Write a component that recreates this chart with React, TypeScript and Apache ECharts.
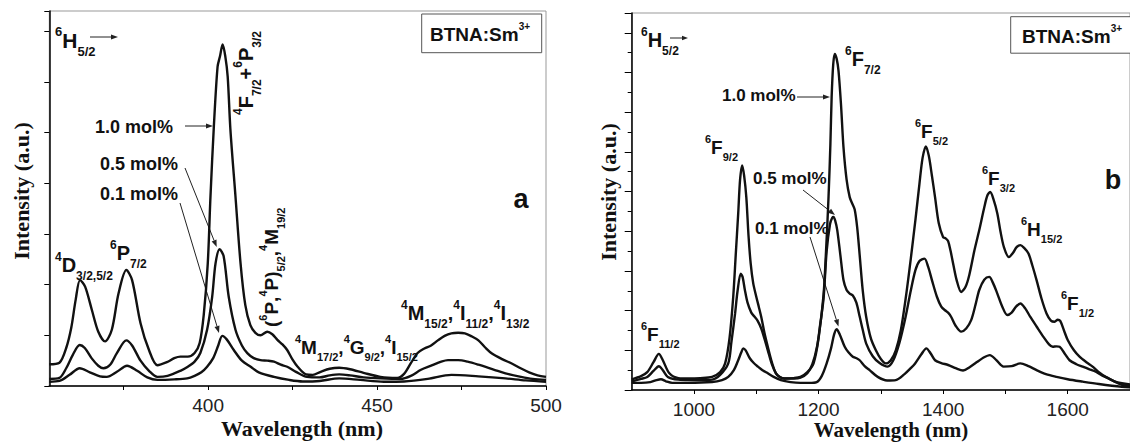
import React, { useEffect, useRef } from 'react';
import * as echarts from 'echarts';

// ---------- Data ----------
// Panel a: excitation 350-500 nm
const aTop: [number, number][] = [[353,0.43],[356,0.46],[358,0.75],[359.5,1.15],[360.8,1.7],[362.1,2.09],[363.6,1.96],[365.6,1.5],[367.5,1.07],[369.5,0.88],[371.5,1.11],[373.5,1.83],[375.8,2.29],[377.5,2.09],[380,1.24],[382.5,0.71],[385,0.41],[387.8,0.47],[390,0.55],[391.8,0.58],[394,0.58],[396,0.65],[397.5,0.85],[398.7,1.4],[399.9,2.42],[400.7,3.74],[401.7,5.12],[402.8,6.3],[403.5,6.5],[404.3,6.74],[405.1,6.5],[405.8,6.1],[406.6,5.06],[408.1,3.74],[409.6,2.42],[411,1.6],[412.5,1.2],[414,1.05],[415.5,1.0],[417.5,1.07],[419,1.02],[420.5,0.91],[422,0.82],[423.4,0.71],[425,0.52],[426.5,0.38],[429,0.23],[431,0.22],[433.3,0.28],[436,0.34],[438.8,0.36],[442,0.33],[446,0.26],[451,0.18],[456,0.16],[458,0.24],[460,0.45],[462,0.65],[464,0.74],[466,0.8],[468,0.9],[470,0.99],[472,1.04],[474,1.05],[476,1.04],[478,0.98],[480,0.9],[482,0.76],[484,0.64],[487,0.53],[490,0.44],[492.5,0.35],[495,0.27],[497.5,0.21],[500,0.18]];
const aMid: [number, number][] = [[353,0.14],[356,0.16],[358,0.35],[360,0.62],[362,0.81],[363.5,0.75],[365.5,0.55],[367.5,0.4],[369,0.35],[371,0.42],[373,0.65],[375.8,0.9],[377.5,0.8],[380,0.5],[382.5,0.3],[385,0.18],[388,0.2],[391.8,0.3],[394,0.38],[396,0.48],[397.7,0.65],[399.7,1.11],[401.2,1.76],[402.2,2.42],[403.4,2.7],[404.6,2.56],[406.1,1.76],[408.1,1.11],[410,0.8],[411.6,0.65],[413.5,0.55],[415.5,0.51],[417.5,0.5],[419.5,0.48],[421.5,0.42],[423.4,0.38],[426,0.28],[429.3,0.18],[433,0.17],[436,0.21],[438.8,0.23],[442,0.21],[446,0.17],[451,0.15],[457,0.14],[460,0.2],[463,0.32],[466,0.4],[469,0.48],[471,0.51],[474,0.51],[476.8,0.48],[480,0.42],[484.7,0.32],[488,0.25],[492.6,0.18],[496,0.14],[500,0.12]];
const aLow: [number, number][] = [[353,0.085],[356,0.1],[359,0.22],[362,0.35],[365,0.27],[368,0.19],[370,0.18],[373,0.28],[376,0.4],[379,0.3],[382,0.17],[385,0.12],[390,0.13],[393.8,0.15],[396,0.2],[398,0.27],[399.7,0.38],[401.5,0.55],[403,0.8],[404.2,0.99],[405.5,0.92],[407.6,0.71],[410,0.5],[412.6,0.38],[415,0.27],[419.5,0.18],[424,0.12],[428,0.09],[433,0.1],[438.8,0.15],[445,0.12],[452,0.085],[458,0.09],[465,0.14],[472,0.22],[480,0.19],[488,0.15],[494,0.11],[500,0.085]];

// Panel b: 900-1700 nm
const bTop: [number, number][] = [[900,0.27],[915,0.35],[925,0.45],[935,0.7],[943.6,0.91],[950,0.75],[960.5,0.42],[975,0.3],[992,0.29],[1010,0.3],[1029,0.33],[1042,0.45],[1050,0.67],[1057,1.3],[1063,2.35],[1067,3.4],[1071,4.45],[1074,5.3],[1077.4,5.66],[1080.5,5.4],[1084,4.86],[1087.5,3.9],[1091,3.19],[1095,2.7],[1100,2.35],[1104,2.1],[1108,1.84],[1113,1.45],[1118.5,1.09],[1125,0.7],[1131.6,0.42],[1138,0.33],[1145,0.29],[1160,0.3],[1171,0.33],[1182,0.45],[1192,0.67],[1200,1.3],[1208,2.4],[1212,3.5],[1216,4.86],[1219,6.2],[1221,7.38],[1223.5,8.2],[1226,8.47],[1229,8.35],[1232,8.05],[1236,7.2],[1240,6.12],[1245,5.3],[1250,4.86],[1254,4.7],[1258,4.55],[1262,4.1],[1266,3.4],[1271,2.5],[1276.5,1.84],[1284,1.3],[1292,1.0],[1300,0.78],[1308,0.67],[1316,0.75],[1324,1.0],[1332,1.5],[1339.8,2.3],[1348,3.3],[1355.6,4.3],[1362,5.2],[1367,5.85],[1372.3,6.14],[1377,5.9],[1382,5.4],[1387,4.86],[1393,4.2],[1400,3.85],[1404,3.82],[1408,3.75],[1412,3.5],[1416,3.19],[1422,2.75],[1429,2.47],[1436,2.6],[1442,2.9],[1450,3.5],[1458,4.03],[1466,4.6],[1471,4.9],[1475.5,4.99],[1481,4.8],[1487,4.45],[1492,4.0],[1497.6,3.6],[1505.5,3.35],[1512,3.45],[1518,3.6],[1524,3.65],[1530,3.58],[1537,3.44],[1543,3.15],[1550,2.77],[1558,2.3],[1566,1.93],[1573,1.75],[1579,1.72],[1584,1.77],[1588,1.74],[1594,1.5],[1600,1.26],[1610,1.0],[1619,0.84],[1630,0.7],[1640,0.59],[1650,0.45],[1661,0.33],[1675,0.22],[1687,0.17],[1700,0.14]];
const bMid: [number, number][] = [[900,0.22],[915,0.28],[925,0.33],[935,0.48],[943.6,0.6],[950,0.5],[958,0.33],[975,0.26],[992,0.25],[1010,0.25],[1029,0.26],[1042,0.38],[1055,0.67],[1060,1.2],[1066,1.93],[1070,2.5],[1075,2.93],[1078,2.85],[1081.7,2.52],[1086,2.2],[1092,1.95],[1097,1.85],[1102,1.75],[1108,1.55],[1113,1.3],[1118.5,1.0],[1125,0.65],[1131.6,0.42],[1138,0.32],[1145,0.29],[1160,0.29],[1171,0.31],[1182,0.42],[1190,0.65],[1197.5,1.09],[1203,1.7],[1208,2.3],[1213,3.5],[1218.5,4.19],[1222,4.34],[1224,4.36],[1227,4.25],[1230,4.03],[1235,3.4],[1240,2.77],[1245,2.52],[1250,2.43],[1255,2.38],[1260.7,2.2],[1266,1.85],[1271,1.51],[1276.5,1.17],[1287,0.85],[1298,0.68],[1310.7,0.59],[1320,0.75],[1330,1.2],[1339.7,1.84],[1348,2.5],[1355.5,3.02],[1362,3.25],[1370,3.31],[1376,3.1],[1382,2.77],[1390,2.35],[1397,2.1],[1403,2.01],[1408,1.95],[1413,1.84],[1420,1.62],[1429,1.47],[1437,1.55],[1445,1.76],[1452,2.15],[1458,2.52],[1466,2.78],[1474,2.85],[1480,2.7],[1487,2.43],[1495,2.1],[1503,1.89],[1510,1.95],[1517,2.1],[1524,2.18],[1532,2.05],[1540,1.84],[1550,1.6],[1561,1.34],[1570,1.15],[1576,1.09],[1582,1.1],[1587,1.09],[1595,0.92],[1603,0.75],[1614,0.65],[1624,0.59],[1635,0.52],[1645,0.46],[1655,0.37],[1666,0.29],[1677,0.2],[1687,0.13],[1700,0.1]];
const bLow: [number, number][] = [[900,0.18],[915,0.18],[930,0.2],[940,0.25],[947,0.27],[955,0.22],[965,0.18],[990,0.18],[1029,0.2],[1045,0.25],[1055,0.33],[1064,0.5],[1071,0.75],[1076,0.95],[1079,1.05],[1083,1.0],[1089.6,0.8],[1096,0.68],[1102.7,0.59],[1110,0.5],[1118.5,0.42],[1128,0.33],[1139.5,0.25],[1155,0.2],[1171,0.18],[1185,0.18],[1197,0.2],[1205,0.35],[1213,0.67],[1220,1.05],[1225,1.4],[1229,1.53],[1234,1.4],[1242,1.09],[1248,0.95],[1255,0.84],[1261,0.8],[1266,0.75],[1274,0.6],[1282,0.5],[1295,0.33],[1310,0.24],[1324,0.25],[1338,0.4],[1348,0.55],[1355,0.67],[1365,0.9],[1373,1.05],[1380,0.92],[1387,0.75],[1397,0.68],[1408,0.63],[1420,0.55],[1432,0.49],[1443,0.58],[1455,0.71],[1465,0.82],[1475,0.88],[1485,0.76],[1497,0.59],[1510,0.6],[1524,0.67],[1537,0.6],[1550,0.5],[1565,0.4],[1582,0.33],[1600,0.27],[1624,0.21],[1650,0.15],[1687,0.08],[1700,0.07]];

const aTickValues = [375, 400, 425, 450, 475, 500];
const aLabelValues = [400, 450, 500];
const bTickValues = [1000, 1100, 1200, 1300, 1400, 1500, 1600, 1700];
const bLabelValues = [1000, 1200, 1400, 1600];

const xName = 'Wavelength (nm)';
const yName = 'Intensity (a.u.)';
const sampleName = 'BTNA:Sm';
const concLabels = ['1.0 mol%', '0.5 mol%', '0.1 mol%'];

// ---------- helpers ----------
const SANS = 'Liberation Sans';
const SERIF = 'Liberation Serif';
const INK = '#111';

let measureCtx: CanvasRenderingContext2D | null = null;
function textWidth(s: string, size: number, family = SANS, weight = 'bold') {
  if (!measureCtx) measureCtx = document.createElement('canvas').getContext('2d');
  if (!measureCtx) return s.length * size * 0.6;
  measureCtx.font = `${weight} ${size}px "${family}"`;
  return measureCtx.measureText(s).width;
}

type Part = [string, 'm' | 'u' | 'd'];
function subLabel(parts: Part[], x: number, y: number, size: number, rot = 0, small?: number) {
  const sm = small ?? Math.round(size * 0.6);
  let cx = 0;
  const children = parts.map(([t, k]) => {
    const fs = k === 'm' ? size : sm;
    const dy = k === 'm' ? 0 : k === 'u' ? -size * 0.42 : size * 0.55;
    const el = {
      type: 'text',
      x: cx,
      y: dy,
      style: { text: t, fontSize: fs, fontWeight: 'bold', fontFamily: SANS, fill: INK, verticalAlign: 'middle', align: 'left' },
    };
    cx += textWidth(t, fs);
    return el;
  });
  return { type: 'group', x, y, rotation: rot, children };
}

function arrow(x1: number, y1: number, x2: number, y2: number, head = 7, hw = 2.6) {
  const a = Math.atan2(y2 - y1, x2 - x1);
  const bx = x2 - head * Math.cos(a);
  const by = y2 - head * Math.sin(a);
  const px = -Math.sin(a) * hw;
  const py = Math.cos(a) * hw;
  return [
    { type: 'line', shape: { x1, y1, x2: bx, y2: by }, style: { stroke: '#222', lineWidth: 1 } },
    { type: 'polygon', shape: { points: [[x2, y2], [bx + px, by + py], [bx - px, by - py]] }, style: { fill: '#222' } },
  ];
}

function plainText(text: string, x: number, y: number, size: number, opts: any = {}) {
  return {
    type: 'text',
    x,
    y,
    rotation: opts.rot ?? 0,
    style: {
      text,
      fontSize: size,
      fontWeight: 'bold',
      fontFamily: opts.family ?? SANS,
      fill: INK,
      align: opts.align ?? 'left',
      verticalAlign: 'middle',
    },
  };
}

function box(x: number, y: number, w: number, h: number) {
  return { type: 'rect', shape: { x, y, width: w, height: h }, style: { fill: '#fff', stroke: '#555', lineWidth: 1 } };
}

const lineSeries = (data: [number, number][], idx: number) => ({
  type: 'line',
  data,
  xAxisIndex: idx,
  yAxisIndex: idx,
  showSymbol: false,
  smooth: 0.3,
  lineStyle: { color: INK, width: 2.4 },
  z: 3,
});

const axisLabelStyle = {
  fontFamily: SANS,
  fontSize: 19,
  color: '#222',
  margin: 10,
  formatter: (v: number) => String(v),
};

export default function App() {
  const ref = useRef<HTMLDivElement>(null);
  useEffect(() => {
    if (!ref.current) return;
    const chart = echarts.init(ref.current, null, { renderer: 'svg' });
    const PI2 = Math.PI / 2;
    const graphics: any[] = [
      // axis names
      plainText(yName, 21, 191, 22, { family: SERIF, align: 'center', rot: PI2 }),
      plainText(yName, 608, 192, 22, { family: SERIF, align: 'center', rot: PI2 }),
      plainText(xName, 302, 428, 22, { family: SERIF, align: 'center' }),
      plainText(xName, 891, 430, 21, { family: SERIF, align: 'center' }),

      // ---- panel a ----
      subLabel([['6', 'u'], ['H', 'm'], ['5/2', 'd']], 55, 40, 21),
      ...arrow(90, 37, 118, 37),
      box(421.7, 14, 120, 38.7),
      subLabel([[sampleName, 'm'], ['3+', 'u']], 430, 34, 19, 0, 10),
      plainText('a', 521, 199, 27, { align: 'center' }),
      plainText(concLabels[0], 95, 127, 18),
      ...arrow(185, 126, 213, 126),
      plainText(concLabels[1], 100, 164, 18),
      ...arrow(185, 168, 216.7, 247),
      plainText(concLabels[2], 100, 194, 18),
      ...arrow(180, 203, 219, 333),
      subLabel([['4', 'u'], ['F', 'm'], ['7/2', 'd'], ['+', 'm'], ['6', 'u'], ['P', 'm'], ['3/2', 'd']], 246, 115, 20, PI2),
      subLabel([['(', 'm'], ['6', 'u'], ['P', 'm'], [',', 'm'], ['4', 'u'], ['P', 'm'], [')', 'm'], ['5/2', 'd'], [',', 'm'], ['4', 'u'], ['M', 'm'], ['19/2', 'd']], 271, 327, 19, PI2),
      subLabel([['4', 'u'], ['D', 'm'], ['3/2,5/2', 'd']], 55, 265, 20),
      subLabel([['6', 'u'], ['P', 'm'], ['7/2', 'd']], 110, 253, 20),
      subLabel([['4', 'u'], ['M', 'm'], ['17/2', 'd'], [',', 'm'], ['4', 'u'], ['G', 'm'], ['9/2', 'd'], [',', 'm'], ['4', 'u'], ['I', 'm'], ['15/2', 'd']], 295, 347, 19),
      subLabel([['4', 'u'], ['M', 'm'], ['15/2', 'd'], [',', 'm'], ['4', 'u'], ['I', 'm'], ['11/2', 'd'], [',', 'm'], ['4', 'u'], ['I', 'm'], ['13/2', 'd']], 401, 313, 20),

      // ---- panel b ----
      subLabel([['6', 'u'], ['H', 'm'], ['5/2', 'd']], 641, 40, 20),
      ...arrow(670, 38, 688, 38, 6, 2.3),
      box(1010.7, 16.7, 130, 36.5),
      subLabel([[sampleName, 'm'], ['3+', 'u']], 1022, 36, 19, 0, 10),
      plainText('b', 1113, 180, 27, { align: 'center' }),
      plainText(concLabels[0], 722, 95, 17),
      ...arrow(797, 97, 830, 97),
      plainText(concLabels[1], 753, 178, 17),
      ...arrow(803, 190, 835, 215),
      plainText(concLabels[2], 755, 228, 17),
      ...arrow(810, 237, 838.5, 326.5),
      subLabel([['6', 'u'], ['F', 'm'], ['11/2', 'd']], 641, 334, 19),
      subLabel([['6', 'u'], ['F', 'm'], ['9/2', 'd']], 705, 147, 19),
      subLabel([['6', 'u'], ['F', 'm'], ['7/2', 'd']], 845, 59, 20),
      subLabel([['6', 'u'], ['F', 'm'], ['5/2', 'd']], 915, 131, 19),
      subLabel([['6', 'u'], ['F', 'm'], ['3/2', 'd']], 982, 178, 19),
      subLabel([['6', 'u'], ['H', 'm'], ['15/2', 'd']], 1021, 229, 19),
      subLabel([['6', 'u'], ['F', 'm'], ['1/2', 'd']], 1061, 303, 19),
    ];

    const option: any = {
      animation: false,
      backgroundColor: '#fff',
      grid: [
        { left: 49.3, top: 11, width: 496.7, height: 375, show: true, borderColor: '#999', borderWidth: 1 },
        { left: 631.7, top: 13, width: 506.3, height: 377, show: true, borderColor: '#999', borderWidth: 1 },
      ],
      xAxis: [
        {
          type: 'value', gridIndex: 0, min: 353, max: 500,
          axisLine: { lineStyle: { color: '#000', width: 1.5 } },
          axisTick: { show: true, length: 4, customValues: aTickValues, lineStyle: { color: '#000' } },
          axisLabel: { ...axisLabelStyle, customValues: aLabelValues },
          splitLine: { show: false },
        },
        {
          type: 'value', gridIndex: 1, min: 900, max: 1700,
          axisLine: { lineStyle: { color: '#000', width: 1.5 } },
          axisTick: { show: true, length: 4, customValues: bTickValues, lineStyle: { color: '#000' } },
          axisLabel: { ...axisLabelStyle, customValues: bLabelValues },
          splitLine: { show: false },
        },
      ],
      yAxis: [
        {
          type: 'value', gridIndex: 0, min: 0, max: 7.4, interval: 1,
          axisLine: { show: true, lineStyle: { color: '#000', width: 1.5 } },
          axisTick: { show: true, length: 5, lineStyle: { color: '#000' } },
          axisLabel: { show: false },
          splitLine: { show: false },
        },
        {
          type: 'value', gridIndex: 1, min: 0, max: 9.5, interval: 1,
          axisLine: { show: true, lineStyle: { color: '#000', width: 1.5 } },
          axisTick: { show: true, length: 7, lineStyle: { color: '#000' } },
          minorTick: { show: true, splitNumber: 2, length: 4, lineStyle: { color: '#000' } },
          axisLabel: { show: false },
          splitLine: { show: false },
        },
      ],
      series: [
        lineSeries(aTop, 0), lineSeries(aMid, 0), lineSeries(aLow, 0),
        lineSeries(bTop, 1), lineSeries(bMid, 1), lineSeries(bLow, 1),
      ],
      graphic: graphics,
    };
    chart.setOption(option);
    return () => chart.dispose();
  }, []);
  return <div ref={ref} style={{ position: 'fixed', left: 0, top: 0, width: 1130, height: 443, background: '#fff' }} />;
}
